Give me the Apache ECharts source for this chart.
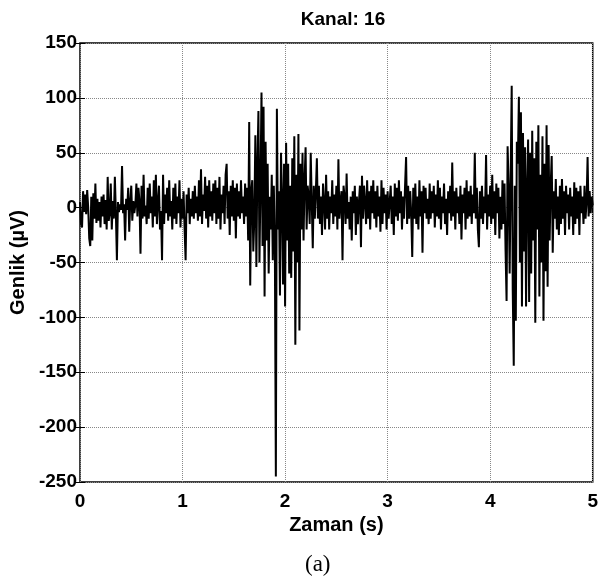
<!DOCTYPE html>
<html>
<head>
<meta charset="utf-8">
<title>Kanal: 16</title>
<script src="https://cdn.jsdelivr.net/npm/echarts@6/dist/echarts.min.js"></script>
<style>
  html, body { margin: 0; padding: 0; background: #fff; }
  #chart { width: 601px; height: 580px; }
</style>
</head>
<body>
<div id="chart"></div>
<script>
// sampling: 100 Hz, 0 .. 5 s
var fs = 100;

// amplitude in µV, one row per 0.1 s
var amp = [
  5, -15, -18, 15, -4, 12, -6, 16, 0, -28,
  -35, 10, -30, 13, -10, 22, -14, 8, -12, 5,
  -18, 10, -8, 12, -15, 7, -20, 28, -12, -5,
  22, -20, 6, -10, 28, -6, -48, 5, -4, 3,
  -2, 38, -5, 3, -30, 8, -2, 18, -22, 5,
  20, -12, 6, -5, 3, 22, -8, 18, 6, -42,
  20, -10, 30, -8, 2, -15, 18, -10, 22, -5,
  10, -18, 25, -8, 30, -15, 5, 20, -20, -3,
  -48, 30, -15, 12, -5, 18, -12, 25, -8, 6,
  -20, 18, -10, 22, -15, 10, -5, 25, -18, 8,
  -10, 15, -20, -48, 12, -5, 18, -15, 8, -8,
  15, -10, 20, -5, 10, -12, 25, -8, 35, -15,
  12, -3, 28, -10, 20, -18, 25, -8, 15, -12,
  22, -5, 25, -15, 18, -10, 28, -20, 12, -5,
  20, -15, 30, 40, -10, 15, -25, 20, -8, 25,
  -12, 18, -28, 22, -8, 15, -10, 25, -5, 10,
  -15, 22, -8, 18, -30, 78, -71, 15, 25, -40,
  -10, 66, -54, 40, 88, -50, 20, 105, -35, 92,
  -81, 60, -30, 40, -60, 10, -20, 30, -48, 20,
  -30, -245, 90, -20, 15, -80, 50, 10, -70, 40,
  -90, 59, -30, 40, -60, 20, -64, 45, -40, 65,
  -125, 30, -50, 67, -112, 40, -20, 50, -30, 25,
  55, -20, 20, 10, -15, 50, 5, -37, 20, -10,
  15, 45, -10, 20, -15, 10, -25, 22, 5, -20,
  30, -10, 15, -20, 10, -5, 25, -15, 12, -8,
  20, -20, 44, -10, 5, 15, -48, 20, 10, -15,
  31, -10, 5, -20, 10, -30, 15, -5, 20, -25,
  10, -15, 5, 20, -36, 29, -10, 20, 5, -15,
  25, -10, 15, -20, 20, -5, 25, -10, 15, -18,
  20, -8, 10, -22, 25, -15, 18, -5, 12, -20,
  15, -10, 5, 20, -15, 10, -25, 22, -8, 18,
  -12, 25, -5, 15, -20, 10, -10, 20, 46, -15,
  20, -10, 15, -5, -45, 18, -10, 22, -15, 10,
  -20, 25, -8, 15, -41, 20, -5, 18, -10, 8,
  -15, 22, -10, 15, -5, 20, -18, 12, -8, 25,
  -10, 18, -20, 10, -5, 22, -15, 8, -25, 15,
  -5, 20, -12, 41, -8, 15, -20, 18, -5, 10,
  -15, 20, -29, 12, -5, 18, -20, 25, -10, 15,
  -8, 20, -15, 12, -5, 50, -10, 18, -20, -36,
  15, -10, 20, -15, 10, -5, 48, -20, 12, -8,
  20, -15, 30, -10, 15, -25, 22, -5, 18, -28,
  10, -20, 25, -15, 22, -39, -85, 56, 20, -60,
  30, 111, -75, -144, 20, -103, 60, 40, 101, -50,
  87, -90, 68, -40, 55, -90, 20, 62, -86, 50,
  -60, 70, -30, 45, -105, 60, -20, 75, -81, 30,
  -50, 65, -103, 40, -58, 75, -72, 57, -30, 20,
  47, -41, 15, -10, 26, -20, 10, -25, 20, -15,
  26, -10, 15, -25, 20, -5, 12, -20, 18, -8,
  10, -25, 23, -15, 18, -10, 15, -25, 20, -5,
  10, -15, 20, -10, 5, 46, -8, 15, -5, 10,
  2
];

var xTicks = [0, 1, 2, 3, 4, 5];
var yTicks = [-250, -200, -150, -100, -50, 0, 50, 100, 150];

var points = amp.map(function (v, i) { return [i / fs, v]; });

var font = 'Liberation Sans, Arial, sans-serif';
var tickStyle = { color: '#000', fontFamily: font, fontWeight: 'bold', fontSize: 19 };
var nameStyle = { color: '#000', fontFamily: font, fontWeight: 'bold', fontSize: 20 };

var chart = echarts.init(document.getElementById('chart'));

chart.setOption({
  animation: false,
  title: {
    text: 'Kanal: 16',
    left: 338, top: 5, textAlign: 'center',
    textStyle: { color: '#000', fontFamily: font, fontWeight: 'bold', fontSize: 19 }
  },
  grid: { left: 80, right: 4, top: 43, bottom: 98, show: true, borderColor: '#000', borderWidth: 1.5 },
  xAxis: [{
    type: 'value', min: xTicks[0], max: xTicks[xTicks.length - 1], interval: 1,
    name: 'Zaman (s)', nameLocation: 'middle', nameGap: 32,
    nameTextStyle: nameStyle,
    axisLine: { show: false },
    axisTick: { inside: true, length: 5, lineStyle: { color: '#000' } },
    axisLabel: Object.assign({ margin: 10 }, tickStyle),
    splitLine: { lineStyle: { color: '#888', type: 'dotted', width: 1 } }
  }, {
    type: 'value', position: 'top', min: xTicks[0], max: xTicks[xTicks.length - 1], interval: 1,
    axisLine: { show: false },
    axisTick: { inside: true, length: 5, lineStyle: { color: '#000' } },
    axisLabel: { show: false },
    splitLine: { show: false }
  }],
  yAxis: [{
    type: 'value', min: yTicks[0], max: yTicks[yTicks.length - 1], interval: 50,
    name: 'Genlik (µV)', nameLocation: 'middle', nameGap: 48,
    nameTextStyle: nameStyle,
    axisLine: { show: false },
    axisTick: { inside: true, length: 5, lineStyle: { color: '#000' } },
    axisLabel: Object.assign({ margin: 3 }, tickStyle),
    splitLine: { lineStyle: { color: '#888', type: 'dotted', width: 1 } }
  }, {
    type: 'value', position: 'right', min: yTicks[0], max: yTicks[yTicks.length - 1], interval: 50,
    axisLine: { show: false },
    axisTick: { inside: true, length: 5, lineStyle: { color: '#000' } },
    axisLabel: { show: false },
    splitLine: { show: false }
  }],
  graphic: [{
    type: 'text', left: 305, top: 553,
    style: { text: '(a)', fill: '#000', font: '23px "Liberation Serif", "Times New Roman", serif' }
  }],
  series: [{
    type: 'line',
    data: points,
    showSymbol: false,
    sampling: null,
    lineStyle: { color: '#000', width: 2 },
    clip: true
  }]
});
</script>
</body>
</html>
